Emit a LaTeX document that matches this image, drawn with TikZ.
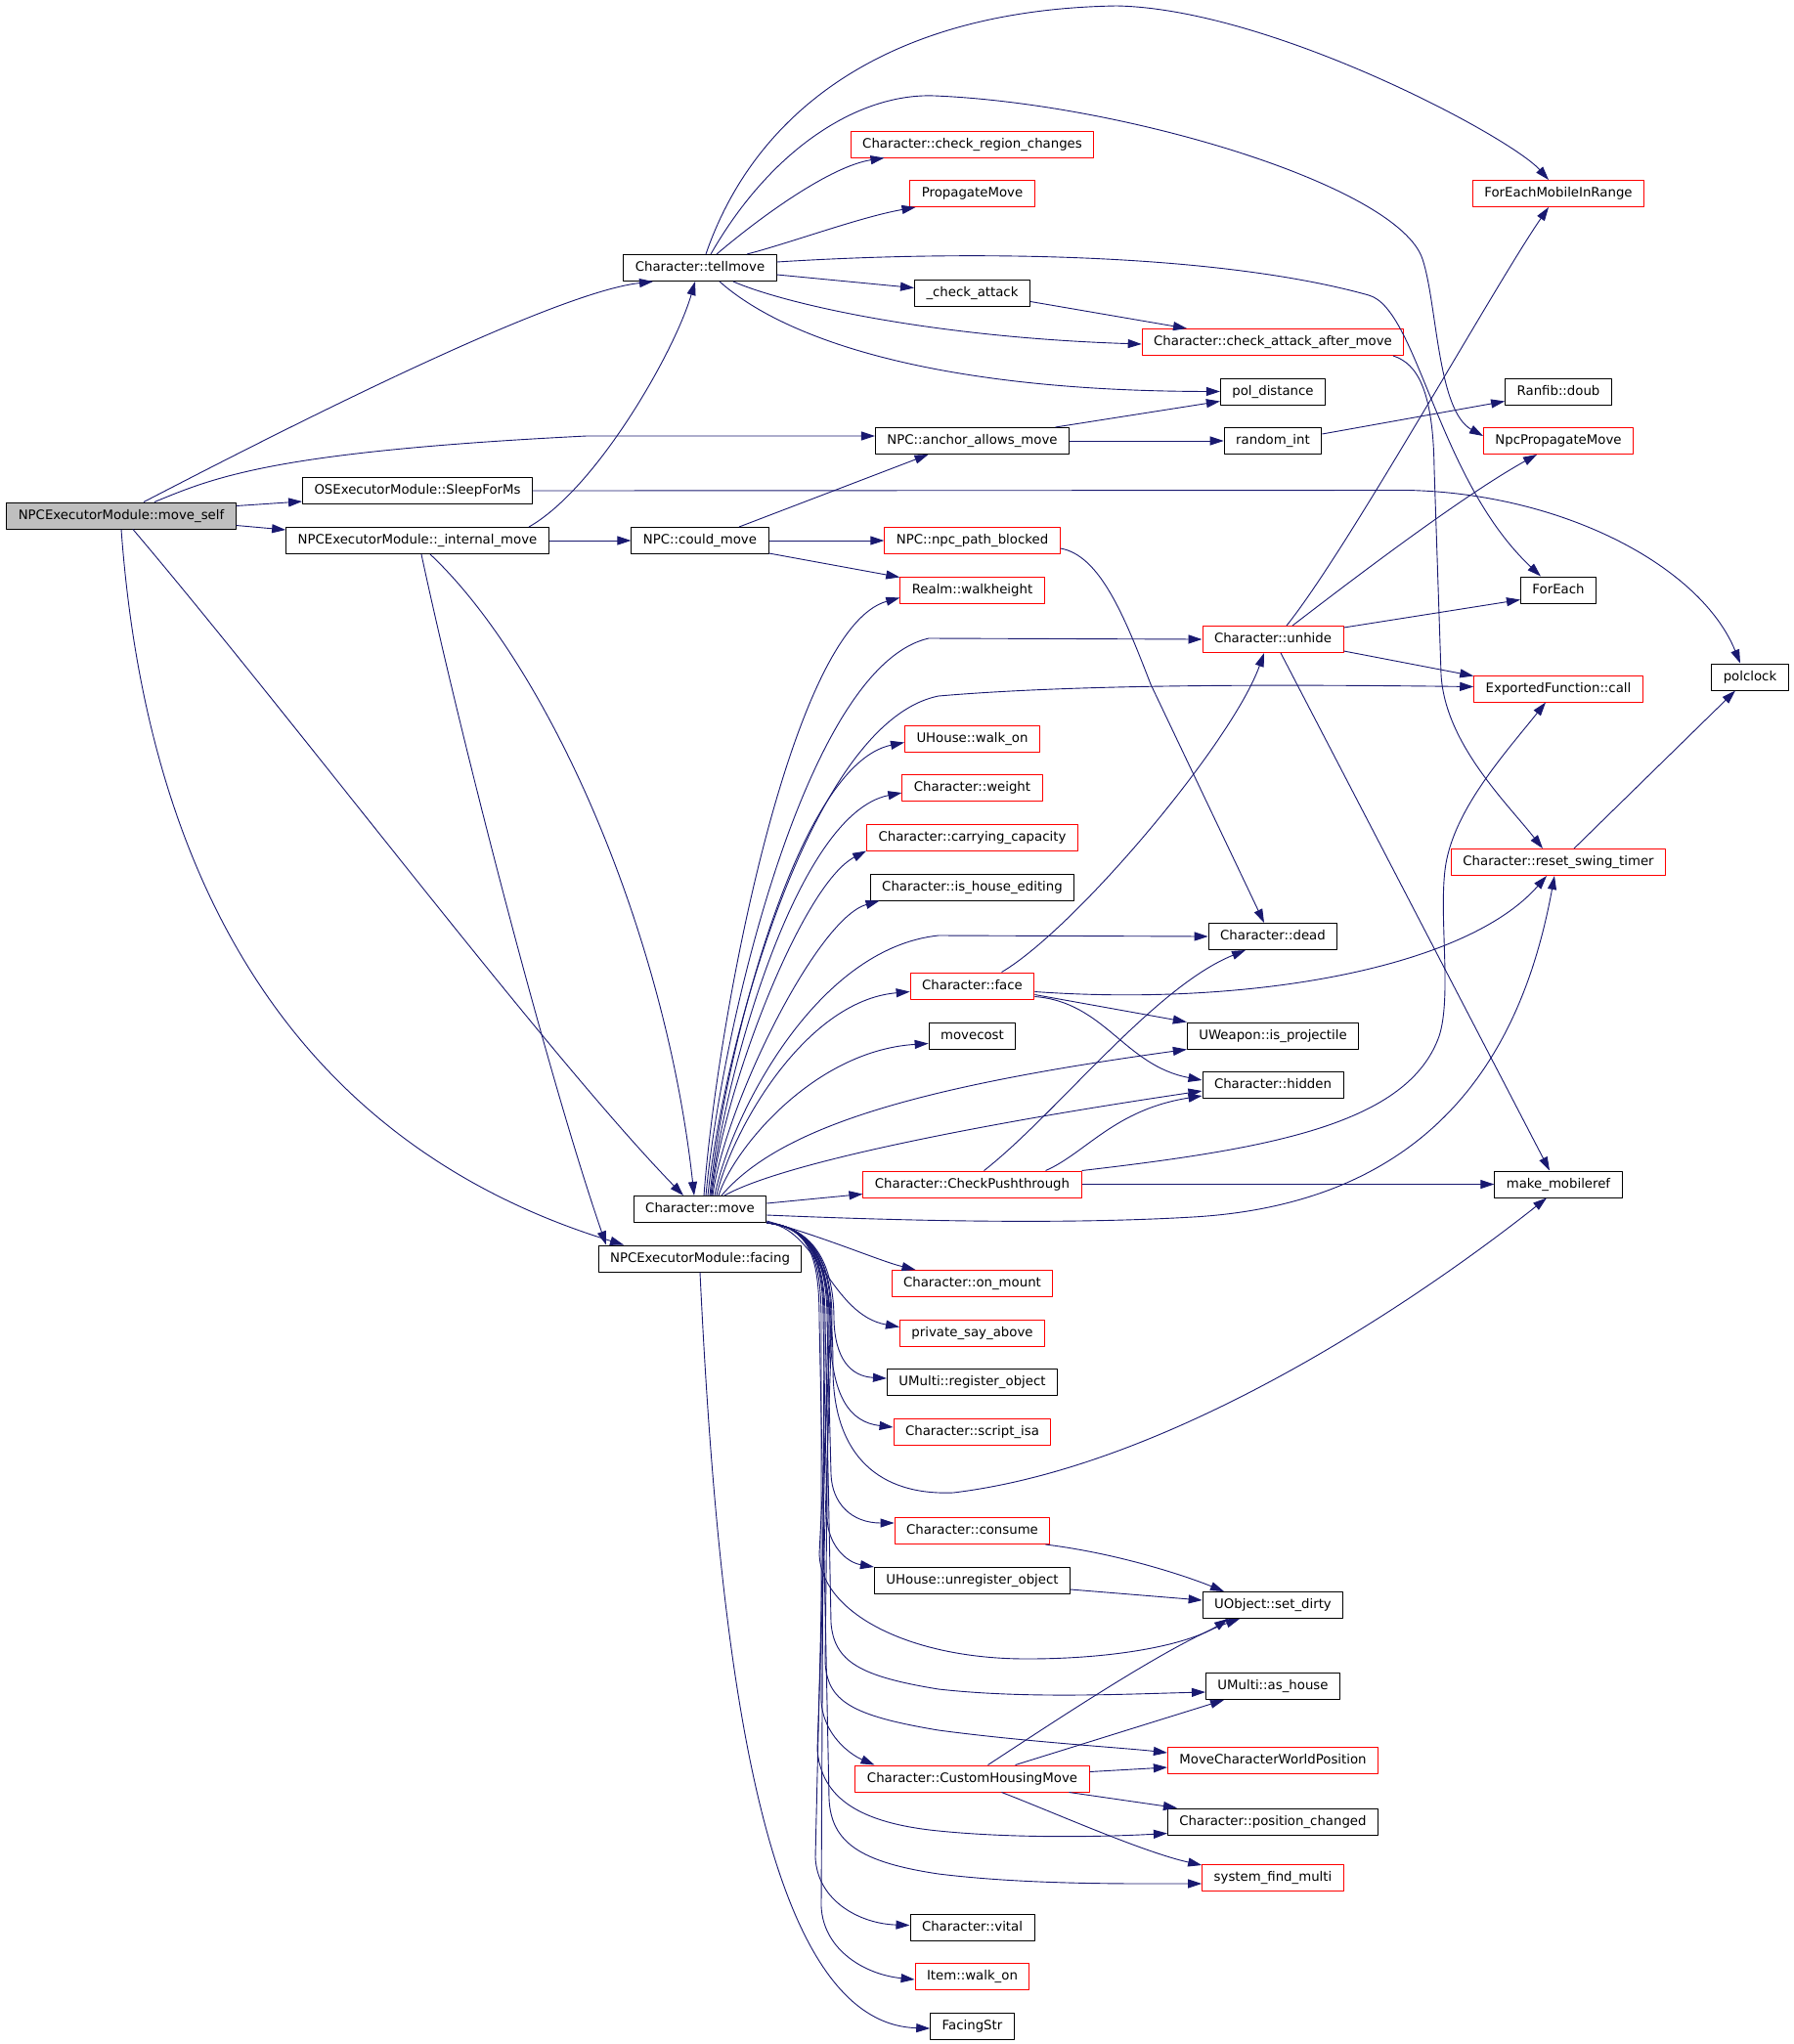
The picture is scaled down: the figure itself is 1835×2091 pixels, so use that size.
\documentclass[tikz,border=0pt]{standalone}
\usepackage{fontspec}
\setmainfont{DejaVu Sans}
\usetikzlibrary{arrows.meta}
\definecolor{callblue}{HTML}{191970}
\definecolor{rootgray}{HTML}{BFBFBF}
\begin{document}
\begin{tikzpicture}[x=1pt,y=-1pt,line join=round,
  fn/.style={draw=black,line width=1pt,rectangle,inner xsep=12pt,inner ysep=0pt,minimum height=27pt,
    text height=10pt,text depth=3pt,font=\fontsize{13.3}{16}\selectfont},
  fnred/.style={fn,draw=red},
  fnroot/.style={fn,fill=rootgray},
  fcall/.style={draw=callblue,line width=0.9pt,-{Triangle[length=14pt,width=9pt]}}]
\path[use as bounding box,fill=white] (0,0) rectangle (1835,2091);
% functions
\node[fnroot] (ms) at (124,527.5) {NPCExecutorModule::move\_self};
\node[fn] (tm) at (716,274) {Character::tellmove};
\node[fnred] (crc) at (994.5,147.5) {Character::check\_region\_changes};
\node[fnred] (pm) at (994.5,198) {PropagateMove};
\node[fnred] (fem) at (1594,198) {ForEachMobileInRange};
\node[fn] (ca) at (994.5,299.5) {\_check\_attack};
\node[fnred] (caam) at (1302,350) {Character::check\_attack\_after\_move};
\node[fn] (pd) at (1302,400.5) {pol\_distance};
\node[fn] (rd) at (1594,400.5) {Ranfib::doub};
\node[fn] (aam) at (994.5,451) {NPC::anchor\_allows\_move};
\node[fn] (ri) at (1302,451) {random\_int};
\node[fnred] (npm) at (1594,451) {NpcPropagateMove};
\node[fn] (sfm) at (427,502) {OSExecutorModule::SleepForMs};
\node[fn] (im) at (427,553) {NPCExecutorModule::\_internal\_move};
\node[fn] (cm) at (716,553) {NPC::could\_move};
\node[fnred] (npb) at (994.5,553) {NPC::npc\_path\_blocked};
\node[fnred] (wh) at (994.5,603.5) {Realm::walkheight};
\node[fn] (fe) at (1594,603.5) {ForEach};
\node[fnred] (uh) at (1302,654) {Character::unhide};
\node[fn] (pc) at (1790,692.5) {polclock};
\node[fnred] (efc) at (1594,704.5) {ExportedFunction::call};
\node[fnred] (hwo) at (994.5,755.5) {UHouse::walk\_on};
\node[fnred] (wt) at (994.5,806) {Character::weight};
\node[fnred] (cc) at (994.5,856.5) {Character::carrying\_capacity};
\node[fnred] (rst) at (1594,882) {Character::reset\_swing\_timer};
\node[fn] (ihe) at (994.5,907.5) {Character::is\_house\_editing};
\node[fn] (dd) at (1302,958) {Character::dead};
\node[fnred] (fc) at (994.5,1008.5) {Character::face};
\node[fn] (mc) at (994.5,1059.5) {movecost};
\node[fn] (ip) at (1302,1059.5) {UWeapon::is\_projectile};
\node[fn] (hd) at (1302,1110) {Character::hidden};
\node[fnred] (cp) at (994.5,1211.5) {Character::CheckPushthrough};
\node[fn] (mm) at (1594,1211.5) {make\_mobileref};
\node[fn] (mv) at (716,1237) {Character::move};
\node[fn] (fa) at (716,1287.5) {NPCExecutorModule::facing};
\node[fnred] (om) at (994.5,1313) {Character::on\_mount};
\node[fnred] (psa) at (994.5,1363.5) {private\_say\_above};
\node[fn] (ro) at (994.5,1414) {UMulti::register\_object};
\node[fnred] (si) at (994.5,1465) {Character::script\_isa};
\node[fnred] (cs) at (994.5,1566) {Character::consume};
\node[fn] (uo) at (994.5,1617) {UHouse::unregister\_object};
\node[fn] (sd) at (1302,1642) {UObject::set\_dirty};
\node[fn] (ah) at (1302,1725) {UMulti::as\_house};
\node[fnred] (mcw) at (1302,1801) {MoveCharacterWorldPosition};
\node[fnred] (chm) at (994.5,1819.5) {Character::CustomHousingMove};
\node[fn] (pch) at (1302,1863.5) {Character::position\_changed};
\node[fnred] (sfmu) at (1302,1921) {system\_find\_multi};
\node[fn] (vt) at (994.5,1971.5) {Character::vital};
\node[fnred] (iw) at (994.5,2022) {Item::walk\_on};
\node[fn] (fs) at (994.5,2073) {FacingStr};
% move_self
\draw[fcall] ([xshift=23]ms.north) .. controls (260,455) and (560,300) .. ([xshift=-48]tm.south);
\draw[fcall] ([xshift=34]ms.north) .. controls (220,488) and (280,462) .. (600,446) -- ([yshift=5]aam.west);
\draw[fcall] ([yshift=10]ms.east) -- ([yshift=-11]sfm.west);
\draw[fcall] ([yshift=-10]ms.east) -- ([yshift=11]im.west);
\draw[fcall] ([xshift=12]ms.south) .. controls (300,735) and (560,1080) .. ([xshift=-17]mv.north);
\draw[fcall] (ms.south) .. controls (150,900) and (300,1170) .. ([xshift=-78]fa.north);
% _internal_move
\draw[fcall] ([xshift=114]im.north) .. controls (610,500) and (690,360) .. ([xshift=-5]tm.south);
\draw[fcall] (im.east) -- (cm.west);
\draw[fcall] ([xshift=13]im.south) .. controls (560,680) and (680,950) .. ([xshift=-6]mv.north);
\draw[fcall] ([xshift=4]im.south) .. controls (470,750) and (560,1100) .. ([xshift=-96]fa.north);
% SleepForMs
\draw[fcall] (sfm.east) -- (1440,501.5) .. controls (1600,505) and (1740,580) .. ([xshift=-10]pc.north);
% tellmove
\draw[fcall] ([xshift=6]tm.north) .. controls (770,120) and (900,10) .. (1142,6) .. controls (1300,9) and (1545,140) .. ([xshift=-10]fem.north);
\draw[fcall] ([xshift=11]tm.north) .. controls (790,150) and (880,95) .. (956,98) .. controls (1150,106) and (1430,190) .. (1455,265) .. controls (1470,310) and (1470,420) .. ([yshift=5]npm.west);
\draw[fcall] ([xshift=17]tm.north) .. controls (780,220) and (850,170) .. ([xshift=-90]crc.south);
\draw[fcall] ([xshift=48]tm.north) .. controls (810,248) and (880,222) .. ([xshift=-58]pm.south);
\draw[fcall] ([yshift=6]tm.east) .. controls (1000,255) and (1250,260) .. (1400,302) .. controls (1450,316) and (1470,490) .. ([xshift=-18]fe.north);
\draw[fcall] ([yshift=-7]tm.east) -- ([yshift=5]ca.west);
\draw[fcall] ([xshift=34]tm.south) .. controls (800,310) and (950,345) .. ([yshift=-2]caam.west);
\draw[fcall] ([xshift=20]tm.south) .. controls (800,345) and (950,400) .. (pd.west);
\draw[fcall] ([yshift=-9]ca.east) -- ([xshift=-88]caam.north);
\draw[fcall] ([xshift=123]caam.south) .. controls (1450,372) and (1466,400) .. (1467,480) -- (1474,690) .. controls (1478,760) and (1540,820) .. ([xshift=-16]rst.north);
% anchor_allows_move, could_move
\draw[fcall] ([xshift=85]aam.north) -- ([yshift=-10]pd.west);
\draw[fcall] (aam.east) -- (ri.west);
\draw[fcall] ([yshift=7]ri.east) -- ([yshift=-10]rd.west);
\draw[fcall] ([xshift=40]cm.north) -- ([xshift=-45]aam.south);
\draw[fcall] (cm.east) -- (npb.west);
\draw[fcall] ([yshift=-13]cm.east) -- ([yshift=13]wh.west);
\draw[fcall] ([yshift=-8]npb.east) .. controls (1125,568) and (1150,630) .. (1177,700) -- ([xshift=-9]dd.north);
% unhide
\draw[fcall] ([xshift=14]uh.north) .. controls (1380,560) and (1530,290) .. ([xshift=-10]fem.south);
\draw[fcall] ([xshift=20]uh.north) .. controls (1400,580) and (1500,505) .. ([xshift=-22]npm.south);
\draw[fcall] ([yshift=12]uh.east) -- ([yshift=-10]fe.west);
\draw[fcall] ([yshift=-12]uh.east) -- ([yshift=13]efc.west);
\draw[fcall] ([xshift=8]uh.south) -- ([xshift=-9]mm.north);
\draw[fcall] ([xshift=16]rst.north) -- ([xshift=-15]pc.south);
% Character::move, upper calls
\draw[fcall] ([xshift=4]mv.north) .. controls (734,1039) and (810,642) .. ([yshift=-8]wh.west);
\draw[fcall] ([xshift=6]mv.north) .. controls (738,1052) and (825,681) .. (950,653) -- (uh.west);
\draw[fcall] ([xshift=8]mv.north) .. controls (740,1070) and (830,738) .. (960,712) .. controls (1100,700) and (1300,700) .. ([yshift=2]efc.west);
\draw[fcall] ([xshift=10]mv.north) .. controls (740,1084) and (815,782) .. ([yshift=-4]hwo.west);
\draw[fcall] ([xshift=11]mv.north) .. controls (741,1100) and (815,832) .. ([yshift=-5]wt.west);
\draw[fcall] ([xshift=12]mv.north) .. controls (739,1117) and (820,905) .. (cc.south west);
\draw[fcall] ([xshift=13]mv.north) .. controls (741,1132) and (835,940) .. ([xshift=-95]ihe.south);
\draw[fcall] ([xshift=15]mv.north) .. controls (747,1143) and (834,970) .. (960,957) -- (dd.west);
\draw[fcall] ([xshift=17]mv.north) .. controls (747,1160) and (822,1024) .. ([yshift=-6]fc.west);
\draw[fcall] ([xshift=19]mv.north) .. controls (750,1176) and (832,1075) .. ([yshift=-8]mc.west);
\draw[fcall] ([xshift=22]mv.north) .. controls (800,1150) and (950,1110) .. (ip.south west);
\draw[fcall] ([xshift=25]mv.north) .. controls (800,1190) and (1000,1150) .. ([yshift=-6]hd.west);
\draw[fcall] ([yshift=6]mv.east) -- ([yshift=-10]cp.west);
\draw[fcall] ([yshift=-6]mv.east) .. controls (950,1250) and (1100,1252) .. (1220,1245) .. controls (1480,1230) and (1560,1060) .. ([xshift=-4]rst.south);
% Character::move, lower calls
\draw[fcall] ([yshift=2]mv.south east) .. controls (850,1268) and (900,1290) .. ([xshift=-58]om.north);
\draw[fcall] (mv.south east) .. controls (835,1255) and (850,1345) .. ([yshift=6]psa.west);
\draw[fcall] (mv.south east) .. controls (830,1255) and (853,1290) .. (853,1350) .. controls (854,1390) and (870,1408) .. ([yshift=4]ro.west);
\draw[fcall] (mv.south east) .. controls (830,1255) and (849,1290) .. (849,1360) .. controls (850,1430) and (870,1455) .. ([yshift=5]si.west);
\draw[fcall] (mv.south east) .. controls (835,1255) and (852,1300) .. (852,1400) .. controls (852,1490) and (900,1530) .. (975,1527) .. controls (1200,1500) and (1450,1330) .. ([xshift=-12]mm.south);
\draw[fcall] (mv.south east) .. controls (830,1255) and (846,1290) .. (846,1350) -- (850,1508) .. controls (851,1538) and (871,1558) .. ([yshift=8]cs.west);
\draw[fcall] (mv.south east) .. controls (830,1255) and (842,1290) .. (842,1350) -- (846,1553) .. controls (847,1580) and (865,1598) .. (uo.north west);
\draw[fcall] (mv.south east) .. controls (830,1255) and (850,1290) .. (850,1350) -- (838,1590) .. controls (840,1650) and (930,1697) .. (1050,1697) .. controls (1150,1697) and (1220,1680) .. ([xshift=-46]sd.south);
\draw[fcall] (mv.south east) .. controls (830,1255) and (844,1290) .. (844,1350) -- (850,1660) .. controls (853,1700) and (880,1715) .. (960,1728) .. controls (1050,1738) and (1150,1733) .. ([yshift=-6]ah.west);
\draw[fcall] (mv.south east) .. controls (830,1255) and (848,1290) .. (848,1350) -- (844,1700) .. controls (846,1740) and (870,1755) .. (960,1770) .. controls (1050,1782) and (1150,1788) .. ([yshift=8]mcw.west);
\draw[fcall] (mv.south east) .. controls (830,1255) and (840,1290) .. (840,1350) -- (840,1740) .. controls (842,1775) and (870,1795) .. ([xshift=-100]chm.north);
\draw[fcall] (mv.south east) .. controls (830,1255) and (851,1290) .. (851,1350) -- (836,1790) .. controls (840,1840) and (880,1865) .. (960,1873) .. controls (1050,1882) and (1150,1878) .. ([yshift=-12]pch.west);
\draw[fcall] (mv.south east) .. controls (830,1255) and (838,1290) .. (838,1350) -- (848,1840) .. controls (850,1885) and (880,1905) .. (960,1917) .. controls (1050,1928) and (1150,1927) .. ([yshift=-6]sfmu.west);
\draw[fcall] (mv.south east) .. controls (830,1255) and (847,1290) .. (847,1350) -- (834,1900) .. controls (836,1945) and (880,1968) .. ([yshift=2]vt.west);
\draw[fcall] (mv.south east) .. controls (830,1255) and (843,1290) .. (843,1350) -- (840,1950) .. controls (842,1995) and (885,2020) .. ([yshift=-3]iw.west);
% facing
\draw[fcall] (fa.south) .. controls (735,1700) and (780,2070) .. ([yshift=-2]fs.west);
% face
\draw[fcall] ([xshift=30]fc.north) .. controls (1100,950) and (1260,760) .. ([xshift=-9]uh.south);
\draw[fcall] ([yshift=-6]fc.east) .. controls (1280,1030) and (1500,990) .. ([xshift=-12]rst.south);
\draw[fcall] ([yshift=-9]fc.east) -- (ip.north west);
\draw[fcall] ([yshift=-11]fc.east) .. controls (1130,1025) and (1150,1090) .. ([yshift=5]hd.west);
% CheckPushthrough
\draw[fcall] ([xshift=12]cp.north) .. controls (1080,1140) and (1180,1010) .. ([xshift=-28]dd.south);
\draw[fcall] ([xshift=75]cp.north) .. controls (1110,1180) and (1140,1135) .. ([yshift=-11]hd.west);
\draw[fcall] (cp.north east) .. controls (1300,1175) and (1440,1150) .. (1472,1060) .. controls (1485,1020) and (1472,940) .. (1478,890) .. controls (1485,830) and (1540,770) .. ([xshift=-13]efc.south);
\draw[fcall] (cp.east) -- (mm.west);
% CustomHousingMove
\draw[fcall] ([xshift=16]chm.north) .. controls (1080,1760) and (1200,1680) .. ([xshift=-34]sd.south);
\draw[fcall] ([xshift=44]chm.north) -- ([xshift=-50]ah.south);
\draw[fcall] ([yshift=7]chm.east) -- ([yshift=-7]mcw.west);
\draw[fcall] ([xshift=99]chm.south) -- ([xshift=10]pch.north west);
\draw[fcall] ([xshift=30]chm.south) .. controls (1080,1855) and (1170,1895) .. ([yshift=13]sfmu.west);
% consume, unregister_object
\draw[fcall] ([xshift=-5]cs.south east) .. controls (1150,1590) and (1220,1615) .. ([xshift=-50]sd.north);
\draw[fcall] ([yshift=-9]uo.east) -- ([yshift=5]sd.west);
\end{tikzpicture}
\end{document}
